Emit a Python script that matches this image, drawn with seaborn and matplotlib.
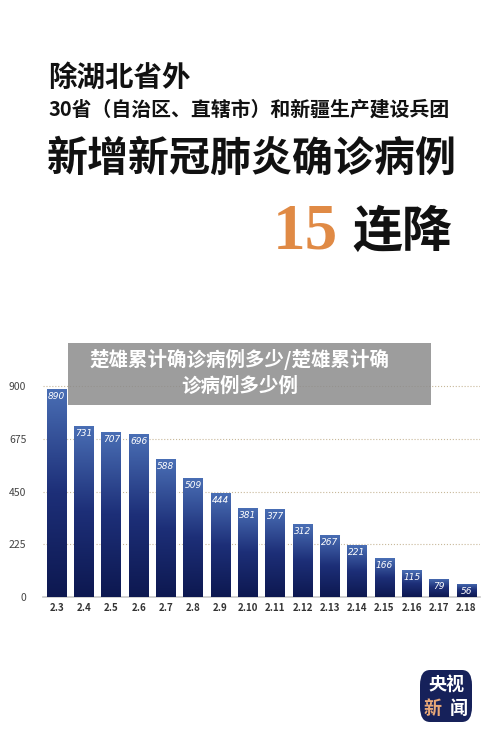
import matplotlib
matplotlib.use("Agg")
import matplotlib.pyplot as plt
import seaborn as sns
import numpy as np
import pandas as pd
from matplotlib.patches import FancyBboxPatch, Rectangle

dates = ["2.3","2.4","2.5","2.6","2.7","2.8","2.9","2.10","2.11","2.12","2.13","2.14","2.15","2.16","2.17","2.18"]
cases = [890,731,707,696,588,509,444,381,377,312,267,221,166,115,79,56]
yticks = [0,225,450,675,900]

sns.set_theme(style="white")
plt.rcParams['font.family'] = ['Noto Sans CJK SC', 'DejaVu Sans']

fig = plt.figure(figsize=(5, 7.5), dpi=100)
fig.patch.set_facecolor("white")

fig.text(0.096, 0.896, "除湖北省外", fontsize=20.5, fontweight="heavy", va="center", color="#111111")
fig.text(0.096, 0.855, "30省（自治区、直辖市）和新疆生产建设兵团", fontsize=14.3, fontweight="heavy", va="center", color="#111111")
fig.text(0.094, 0.789, "新增新冠肺炎确诊病例", fontsize=29.5, fontweight="heavy", va="center", color="#111111")
fig.text(0.545, 0.69, "15", fontsize=47, fontweight="bold", color="#e08a45",
         family=["Liberation Serif", "DejaVu Serif"], va="center")
fig.text(0.705, 0.69, "连降", fontsize=36, fontweight="heavy", va="center", color="#111111")

ax = fig.add_axes([0.086, 0.204, 0.874, 0.287])
df = pd.DataFrame({"date": dates, "cases": cases})
sns.barplot(data=df, x="date", y="cases", ax=ax, color="#1a2a6c", width=0.72, saturation=1)
ax.set_ylim(0, 920)
ax.set_xlim(-0.5, 15.5)
grad = np.linspace(0, 1, 256).reshape(-1, 1)
cmap = matplotlib.colors.LinearSegmentedColormap.from_list("g", ["#0d1850", "#1d2f78", "#4a6fb5"])
for p, v in zip(ax.patches, cases):
    x0 = p.get_x(); w = p.get_width()
    im = ax.imshow(grad, extent=[x0, x0 + w, 0, v], origin="lower", cmap=cmap, aspect="auto", zorder=3)
    im.set_clip_path(p)
    ax.text(x0 + w / 2, v - 32, str(v), ha="center", va="center", color="white",
            fontsize=6.5, style="italic", zorder=4, family="DejaVu Sans")
ax.set_aspect("auto")
ax.set_yticks(yticks)
ax.yaxis.grid(True, linestyle=":", color="#c8b89a", linewidth=0.8)
ax.set_axisbelow(True)
for s in ["top", "right", "left"]:
    ax.spines[s].set_visible(False)
ax.spines["bottom"].set_color("#cccccc")
ax.set_xlabel(""); ax.set_ylabel("")
ax.tick_params(axis="y", labelsize=7.5, colors="#444444", length=0, pad=12)
ax.tick_params(axis="x", labelsize=7, length=0, pad=4)
for t in ax.get_xticklabels():
    t.set_fontweight("bold"); t.set_color("#333333")

# gray overlay
fig.patches.append(Rectangle((68/500, 1-405/750), 363/500, 62/750, transform=fig.transFigure,
                             facecolor="#8c8c8c", alpha=0.85, edgecolor="none", zorder=10))
fig.text(0.48, 1-359/750, "楚雄累计确诊病例多少/楚雄累计确", ha="center", va="center",
         color="white", fontsize=14, fontweight="heavy", zorder=11)
fig.text(0.48, 1-386/750, "诊病例多少例", ha="center", va="center",
         color="white", fontsize=14, fontweight="heavy", zorder=11)

# logo
fig.patches.append(FancyBboxPatch((420/500, 1-722/750), 52/500, 52/750, transform=fig.transFigure,
                                  boxstyle="round,pad=0,rounding_size=0.02", facecolor="#16215a",
                                  edgecolor="none", zorder=10))
fig.text(446/500, 1-685/750, "央视", ha="center", va="center", color="white", fontsize=13,
         fontweight="heavy", zorder=11)
fig.text(433/500, 1-708/750, "新", ha="center", va="center", color="#e8a878", fontsize=13,
         fontweight="heavy", zorder=11)
fig.text(459/500, 1-708/750, "闻", ha="center", va="center", color="white", fontsize=13,
         fontweight="heavy", zorder=11)

fig.savefig("out.png", dpi=100)
